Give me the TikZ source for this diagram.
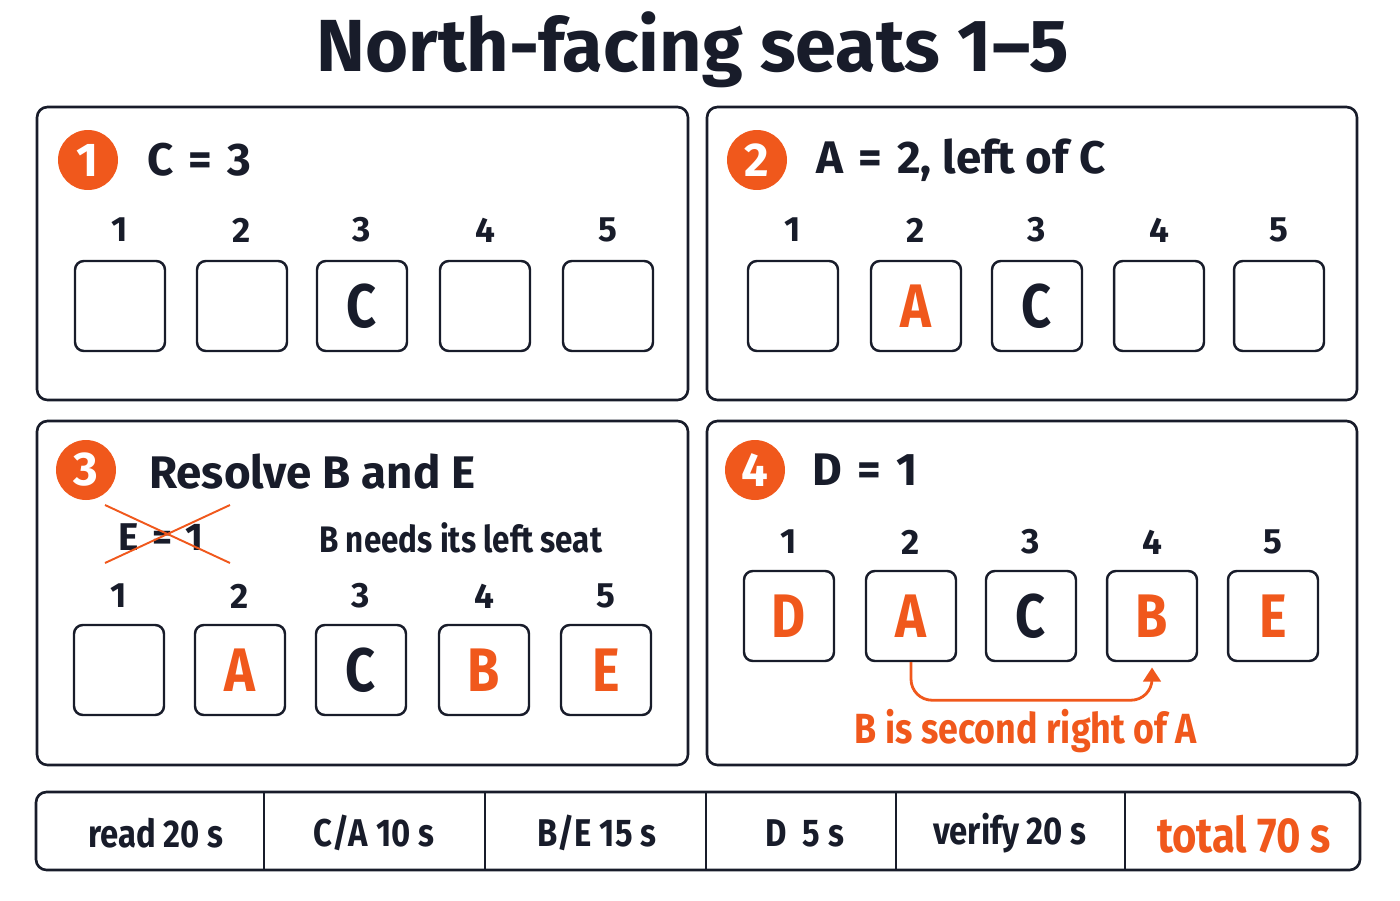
\documentclass[tikz,border=0pt]{standalone}
\usepackage{fontspec}
\setmainfont{Fira Sans}
\newfontfamily\narrowfont{Fira Sans}[FakeStretch=0.85]
\usetikzlibrary{arrows.meta}
\definecolor{ink}{RGB}{24, 28, 42}
\definecolor{hot}{RGB}{240, 88, 28}

\tikzset{
  panel/.style={draw=ink, line width=1.5pt, rounded corners=6pt},
  seat/.style={draw=ink, line width=1.4pt, rounded corners=5pt, minimum width=1.8cm, minimum height=1.8cm, inner sep=0pt, font=\fontsize{35}{40}\bfseries\narrowfont},
  badge/.style={circle, fill=hot, minimum size=1.2cm, inner sep=0pt, text=white, font=\fontsize{27}{30}\bfseries},
  head/.style={anchor=west, text=ink, font=\fontsize{26}{30}\bfseries},
  num/.style={text=ink, font=\fontsize{20}{24}\bfseries},
  cell/.style={text=ink, font=\fontsize{22}{26}\bfseries\narrowfont},
}

\begin{document}
\begin{tikzpicture}[x=0.02cm, y=-0.02cm]
\useasboundingbox (0,0) rectangle (1400,900);

\node[text=ink, font=\fontsize{42}{48}\bfseries] (title) at (693,50) {North-facing seats 1--5};

% step 1
\draw[panel] (37,107) rectangle (688,400);
\node[badge] (b1) at (88,160) {1};
\node[head] (h1) at (141,160) {C\,\,=\,\,3};
\foreach \x/\n/\l/\c in {120/1/{}/ink, 242/2/{}/ink, 362/3/C/ink, 485/4/{}/ink, 608/5/{}/ink} {
  \node[num] (p1n\n) at (\x,230) {\n};
  \node[seat, text=\c] (p1s\n) at (\x,306) {\l};
}

% step 2
\draw[panel] (707,107) rectangle (1357,400);
\node[badge] (b2) at (757,160) {2};
\node[head] (h2) at (810,160) {A\,\,=\,\,2, left of C};
\foreach \x/\n/\l/\c in {793/1/{}/ink, 916/2/A/hot, 1037/3/C/ink, 1159/4/{}/ink, 1279/5/{}/ink} {
  \node[num] (p2n\n) at (\x,230) {\n};
  \node[seat, text=\c] (p2s\n) at (\x,306) {\l};
}

% step 3
\draw[panel] (37,421) rectangle (688,765);
\node[badge] (b3) at (86,470) {3};
\node[head] (h3) at (143,472) {Resolve B and E};
\node[cell, font=\fontsize{22}{26}\bfseries] (p3no) at (161,537) {E\,\,=\,\,1};
\draw[hot, line width=1.1pt] (105,505) -- (230,563);
\draw[hot, line width=1.1pt] (105,563) -- (230,505);
\node[cell, anchor=west, font=\fontsize{21}{26}\bfseries\narrowfont] (p3b) at (313,538) {B needs its left seat};
\foreach \x/\n/\l/\c in {119/1/{}/ink, 240/2/A/hot, 361/3/C/ink, 484/4/B/hot, 606/5/E/hot} {
  \node[num] (p3n\n) at (\x,596) {\n};
  \node[seat, text=\c] (p3s\n) at (\x,670) {\l};
}

% step 4
\draw[panel] (707,421) rectangle (1357,765);
\node[badge] (b4) at (755,470) {4};
\node[head] (h4) at (806,470) {D\,\,=\,\,1};
\foreach \x/\n/\l/\c in {789/1/D/hot, 911/2/A/hot, 1031/3/C/ink, 1152/4/B/hot, 1273/5/E/hot} {
  \node[num] (p4n\n) at (\x,542) {\n};
  \node[seat, text=\c] (p4s\n) at (\x,616) {\l};
}
\draw[hot, line width=1.6pt, rounded corners=12pt, -{Triangle[width=10pt, length=8pt]}]
  (p4s2.south) -- ++(0,38) -| ([yshift=-3pt]p4s4.south);
\node[cell, text=hot, font=\fontsize{24}{30}\bfseries\narrowfont] (p4lab) at (1026,731) {B is second right of A};

% timing bar
\draw[panel] (36,792) rectangle (1360,870);
\foreach \x in {264,485,706,896,1125}
  \draw[ink, line width=1.4pt] (\x,792) -- (\x,870);
\node[cell] (t1) at (156,833) {read 20 s};
\node[cell] (t2) at (374,833) {C/A 10 s};
\node[cell] (t3) at (597,833) {B/E 15 s};
\node[cell] (t4) at (805,833) {D\ \ 5 s};
\node[cell] (t5) at (1010,833) {verify 20 s};
\node[cell, text=hot, font=\fontsize{28}{32}\bfseries\narrowfont] (t6) at (1244,834) {total 70 s};
\end{tikzpicture}
\end{document}
